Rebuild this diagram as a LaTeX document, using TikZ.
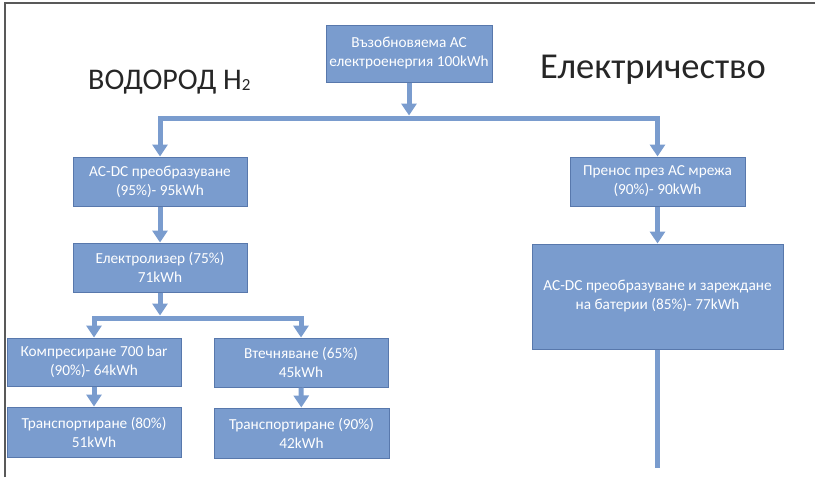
\documentclass[tikz,border=0pt]{standalone}
\usepackage{fontspec}
\setmainfont{Carlito}
\usetikzlibrary{arrows.meta,positioning}

\definecolor{boxblue}{RGB}{122,156,206}
\definecolor{boxline}{RGB}{88,120,172}
\definecolor{flowblue}{RGB}{122,156,206}

\begin{document}
\begin{tikzpicture}[x=1pt,y=-1pt,
  every node/.style = {inner sep=0pt},
  stepbox/.style = {shape=rectangle, draw=boxline, line width=1pt,
    fill=boxblue, text=white, align=center, font=\fontsize{15.3}{19}\selectfont},
  flow/.style = {draw=flowblue, line width=5pt,
    -{Triangle[width=15pt,length=12pt]}},
  pipe/.style = {draw=flowblue, line width=5pt}]
  \useasboundingbox (0,0) rectangle (818,477);
  \draw[gray!70!black, line width=2pt] (5,477) -- (5,3) -- (815,3);

  % titles
  \node[anchor=base west, font=\fontsize{30}{30}\selectfont, text=black!85] (hydro) at (88,89)
    {ВОДОРОД H\raisebox{-0.05em}{\fontsize{17}{17}\selectfont 2}};
  \node[anchor=base west, font=\fontsize{36.5}{36.5}\selectfont, text=black!85] (elec) at (540,78.5)
    {Електричество};

  % boxes
  \node[stepbox, minimum width=166pt, minimum height=57pt] (source) at (409,53.5)
    {Възобновяема AC\\електроенергия 100kWh};
  \node[stepbox, minimum width=174pt, minimum height=49pt] (acdc) at (160,181.5)
    {AC-DC преобразуване\\(95\%)- 95kWh};
  \node[stepbox, minimum width=174pt, minimum height=49pt] (lyser) at (160,267.5)
    {Електролизер (75\%)\\71kWh};
  \node[stepbox, minimum width=174pt, minimum height=48pt] (compr) at (94,362)
    {Компресиране 700 bar\\(90\%)- 64kWh};
  \node[stepbox, minimum width=174pt, minimum height=49pt] (liquef) at (301,362.5)
    {Втечняване (65\%)\\45kWh};
  \node[stepbox, minimum width=174pt, minimum height=50pt] (transA) at (94,432)
    {Транспортиране (80\%)\\51kWh};
  \node[stepbox, minimum width=175pt, minimum height=50pt] (transB) at (301.5,433)
    {Транспортиране (90\%)\\42kWh};
  \node[stepbox, minimum width=175pt, minimum height=49pt] (grid) at (657.5,181.5)
    {Пренос през AC мрежа\\(90\%)- 90kWh};
  \node[stepbox, minimum width=251pt, minimum height=105pt] (batt) at (657.5,296.5)
    {AC-DC преобразуване и зареждане\\на батерии (85\%)- 77kWh};

  \coordinate (split) at (409,118);
  \coordinate (fork) at (160,318);
  \coordinate (tail) at (657.5,468);

  % connectors
  \draw[flow, shorten >=2.5pt] (source) -- (split);
  \draw[flow] (split) -| (acdc);
  \draw[flow] (split) -| (grid);
  \draw[flow] (acdc) -- (lyser);
  \draw[flow, shorten >=2.5pt] (lyser) -- (fork);
  \draw[flow] (fork) -| (compr);
  \draw[flow] (fork) -| (liquef);
  \draw[flow] (compr) -- (transA);
  \draw[flow] (liquef) -- (transB);
  \draw[flow] (grid) -- (batt);
  \draw[pipe] (batt) -- (tail);
\end{tikzpicture}
\end{document}
